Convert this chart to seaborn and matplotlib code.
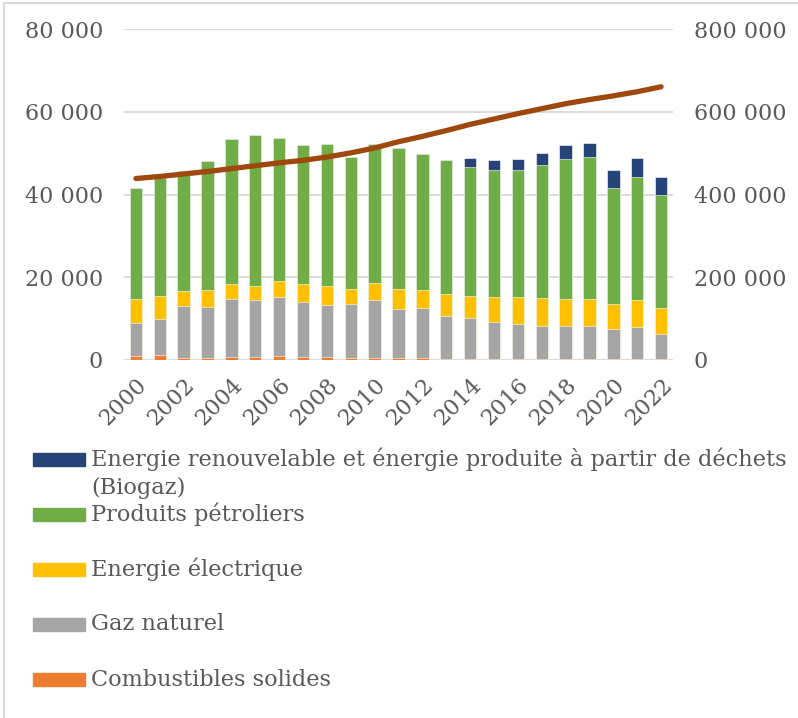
import numpy as np
import pandas as pd
import matplotlib
matplotlib.use("Agg")
import matplotlib.pyplot as plt
import seaborn as sns
from matplotlib.patches import Rectangle
from matplotlib.ticker import FuncFormatter

years = list(range(2000, 2023))
solides = [1050, 1100, 550, 400, 650, 650, 900, 650, 650, 500, 500, 400,
           400, 300, 300, 300, 300, 200, 200, 200, 150, 150, 150]
gaz = [7850, 8800, 12550, 12500, 14050, 13750, 14300, 13450, 12750, 13100, 14000, 12000,
       12300, 10400, 9900, 9000, 8300, 8100, 8000, 8000, 7250, 7850, 6250]
electrique = [5900, 5500, 3700, 4100, 3600, 3500, 3800, 4200, 4600, 3600, 4200, 4800,
              4300, 5300, 5200, 6000, 6700, 6700, 6600, 6500, 6200, 6400, 6100]
petroliers = [26800, 28600, 28900, 31100, 35200, 36500, 34700, 33800, 34200, 32000, 33600, 34100,
              32900, 32500, 31300, 30700, 30700, 32200, 33900, 34300, 27900, 29900, 27300]
renouvelable = [0, 0, 0, 0, 0, 0, 0, 0, 0, 0, 0, 0,
                0, 0, 2200, 2500, 2600, 2900, 3400, 3500, 4400, 4500, 4400]
courbe = [439000, 444000, 450000, 456000, 463000, 470000, 477000, 483000, 491000, 501000, 513000, 528000,
          541000, 555000, 570000, 583000, 596000, 608000, 620000, 630000, 639000, 649000, 661000]

labels = ["Energie renouvelable et énergie produite à partir de déchets\n(Biogaz)",
          "Produits pétroliers", "Energie électrique", "Gaz naturel", "Combustibles solides"]
colors = ["#264478", "#70AD47", "#FFC000", "#A5A5A5", "#ED7D31"]
tick_years = list(range(2000, 2023, 2))

df = pd.DataFrame({"annee": years, "solides": solides, "gaz": gaz, "electrique": electrique,
                   "petroliers": petroliers, "renouvelable": renouvelable, "courbe": courbe})
stack_cols = ["solides", "gaz", "electrique", "petroliers", "renouvelable"]
cum = df[stack_cols].cumsum(axis=1)

sns.set_theme(style="white")
plt.rcParams["font.family"] = ["DejaVu Serif", "DejaVu Sans"]
TXT = "#595959"
W, H = 798, 718


def space_fmt(v, p):
    return f"{int(v):,}".replace(",", " ")


fig = plt.figure(figsize=(W / 100, H / 100), dpi=100)
ax = fig.add_axes([124 / W, 1 - 360 / H, (673 - 124) / W, (360 - 29.3) / H])

# stacked bars: draw cumulative totals from the top series down
for col, color in zip(stack_cols[::-1], colors):
    sns.barplot(x=df["annee"], y=cum[col], native_scale=True, color=color, saturation=1,
                width=0.52, errorbar=None, edgecolor="white", linewidth=0.4, ax=ax, zorder=2)

ax.set_xlim(1999.5, 2022.5)
ax.set_ylim(0, 80000)
ax.set_yticks([0, 20000, 40000, 60000, 80000])
ax.yaxis.set_major_formatter(FuncFormatter(space_fmt))
ax.set_xticks(tick_years)
ax.set_xticklabels([str(y) for y in tick_years], rotation=45, ha="right", va="top",
                   rotation_mode="anchor")
ax.grid(axis="y", color="#D9D9D9", linewidth=1.3, zorder=0)
ax.set_axisbelow(True)
ax.set_xlabel("")
ax.set_ylabel("")
for s in ax.spines.values():
    s.set_visible(False)
ax.tick_params(axis="y", length=0, pad=15, labelsize=16, labelcolor=TXT)
ax.tick_params(axis="x", length=0, pad=10, labelsize=16, labelcolor=TXT)

ax2 = ax.twinx()
sns.lineplot(x=df["annee"], y=df["courbe"], color="#9E480E", linewidth=3.8, ax=ax2,
             solid_capstyle="round")
ax2.set_ylim(0, 800000)
ax2.set_yticks([0, 200000, 400000, 600000, 800000])
ax2.yaxis.set_major_formatter(FuncFormatter(space_fmt))
ax2.set_ylabel("")
for s in ax2.spines.values():
    s.set_visible(False)
ax2.tick_params(axis="y", length=0, pad=15, labelsize=16, labelcolor=TXT)

# legend, laid out as in the reference
centers = [459.5, 514.5, 569.5, 624.5, 679.5]
for lab, color, yc in zip(labels, colors, centers):
    fig.patches.append(Rectangle((33 / W, 1 - (yc + 6.5) / H), 52 / W, 13 / H,
                                 transform=fig.transFigure, color=color))
    for i, line in enumerate(lab.split("\n")):
        fig.text(91 / W, 1 - (yc + i * 28) / H, line, fontsize=16.2, color=TXT,
                 ha="left", va="center")

fig.patches.append(Rectangle((4 / W, -0.01), 1.0, 1 - 3 / H + 0.01, transform=fig.transFigure,
                             fill=False, edgecolor="#D9D9D9", linewidth=1.5))

fig.savefig("out.png", dpi=100, facecolor="white")
